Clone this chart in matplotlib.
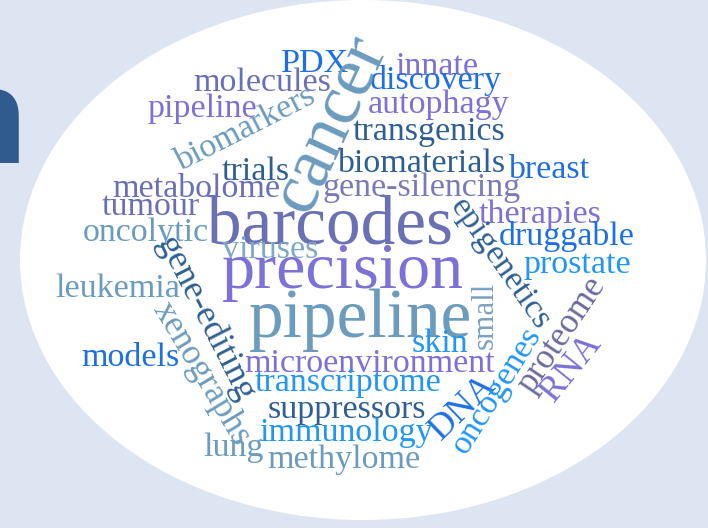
import matplotlib
matplotlib.use("Agg")
import matplotlib.pyplot as plt
from matplotlib.patches import Ellipse

# words of the cloud and their relative weight (1.0 = smallest tier)
words = [
    "PDX", "innate", "molecules", "discovery", "pipeline", "autophagy",
    "transgenics", "biomarkers", "cancer", "trials", "biomaterials", "breast",
    "metabolome", "gene-silencing", "tumour", "barcodes", "therapies",
    "oncolytic", "epigenetics", "druggable", "viruses", "prostate",
    "precision", "leukemia", "gene-editing", "xenographs", "pipeline",
    "small", "proteome", "RNA", "skin", "models", "microenvironment",
    "transcriptome", "DNA", "oncogenes", "suppressors", "immunology",
    "lung", "methylome",
]
weights = [
    1.0, 1.0, 1.0, 1.0, 1.0, 1.0,
    1.0, 1.0, 2.1, 1.0, 1.0, 1.0,
    1.0, 1.0, 1.0, 2.03, 1.0,
    1.0, 1.0, 1.0, 1.0, 1.0,
    1.94, 1.0, 1.06, 1.03, 2.03,
    0.91, 1.03, 1.06, 1.0, 1.0, 1.0,
    1.0, 1.06, 1.0, 1.0, 1.0,
    1.0, 1.0,
]

# layout: baseline-centre (px from top-left) and rotation of each word
layout = [
    (315, 72, 0), (437, 75, 0), (262, 91, 0), (436, 89, 0), (202, 117, 0),
    (439, 113, 0), (429, 140, 0), (249, 136, 27), (346, 131, 65),
    (256, 180, 0), (421, 172, 0), (549, 178, 0), (196, 197, 0),
    (422, 196, 0), (151, 215, 0), (330, 243, 0), (540, 223, 0),
    (146, 241, 0), (493, 269, -55), (567, 245, 0), (270, 258, 0),
    (577, 273, 0), (343, 288, 0), (118, 297, 0), (198, 323, -63),
    (194, 378, -59), (361, 337, 0), (493, 315, 90), (569, 340, 56),
    (578, 373, 51), (440, 352, 0), (130, 366, 0), (370, 372, 0),
    (348, 391, 0), (469, 414, 44), (504, 395, 58), (347, 418, 0),
    (346, 441, 0), (233, 456, 0), (344, 468, 0),
]

steel = "#6B9BBD"
slate = "#6A70B4"
violet = "#7B71D6"
navy = "#2E5F92"
blue = "#1E6FE3"
sky = "#2196F3"
colors = [
    blue, violet, slate, blue, violet, violet,
    navy, steel, steel, navy, navy, blue,
    slate, "#7A7AB8", slate, slate, violet,
    steel, navy, blue, "#7FA8C8", sky,
    violet, steel, navy, steel, steel,
    "#7AA2C2", "#6B6A9E", violet, sky, blue, violet,
    sky, blue, sky, navy, sky,
    steel, steel,
]

base_size = 24.5
bg = "#DCE5F1"

fig = plt.figure(figsize=(7.08, 5.28), dpi=100)
fig.patch.set_facecolor(bg)
ax = fig.add_axes([0, 0, 1, 1])
ax.set_xlim(0, 708)
ax.set_ylim(528, 0)
ax.axis("off")

ax.add_patch(Ellipse((363, 260), 686, 520, facecolor="white", edgecolor="none"))

# clipped title letter on the left edge
ax.text(28, 163, "n", fontsize=95, fontweight="bold", family="Open Sans",
        color="#2F5B8E", ha="right", va="baseline")

for w, s, (x, y, r), c in zip(words, weights, layout, colors):
    ax.text(x, y, w, fontsize=base_size * s, rotation=r, rotation_mode="anchor",
            ha="center", va="baseline", color=c, family="Liberation Serif")

fig.savefig("out.png", dpi=100, facecolor=bg)
